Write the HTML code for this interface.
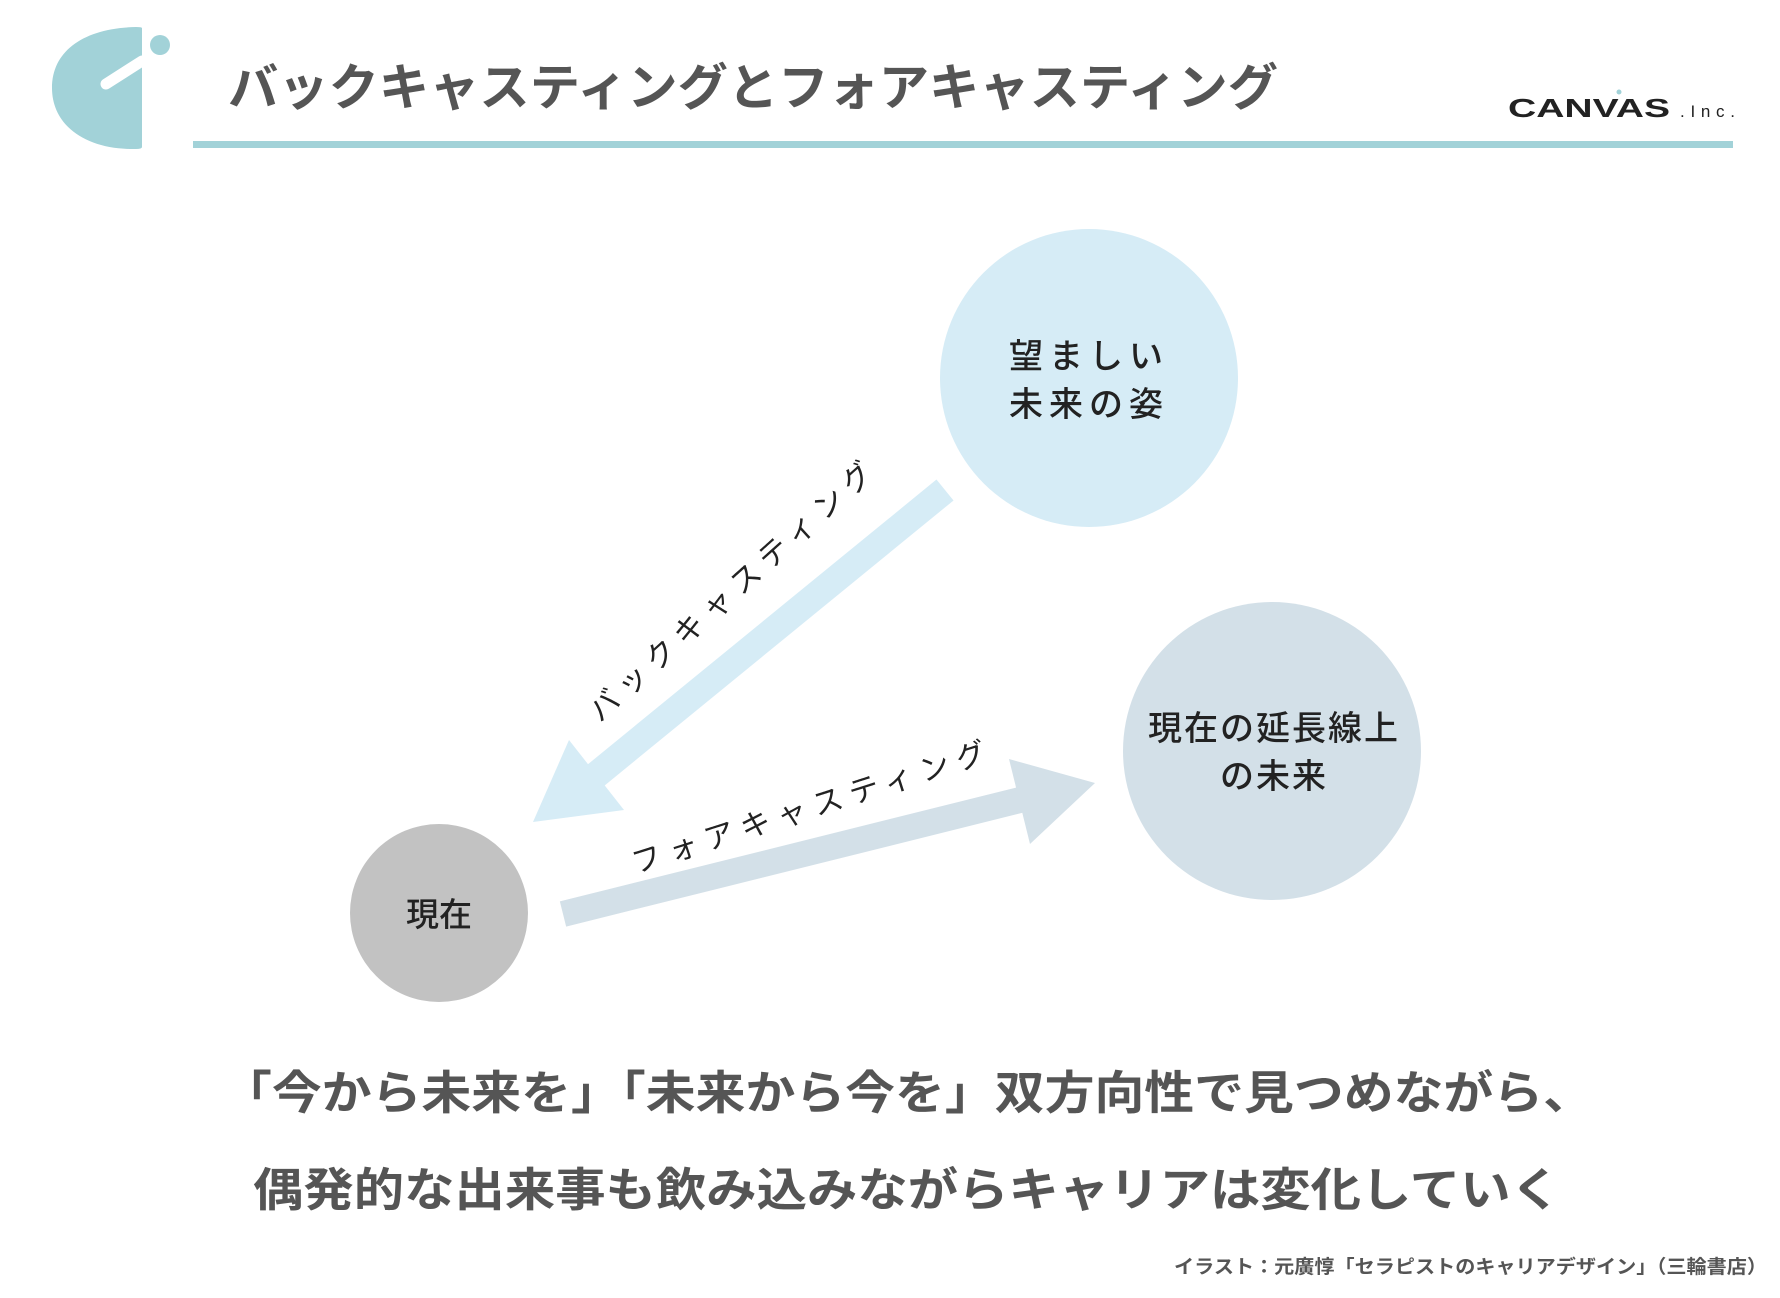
<!DOCTYPE html>
<html><head><meta charset="utf-8"><style>
html,body{margin:0;padding:0;background:#fff;}
svg{display:block;}
text{font-family:"Liberation Sans","Noto Sans CJK JP",sans-serif;}
</style></head><body>
<svg width="1780" height="1298" viewBox="0 0 1780 1298" xmlns="http://www.w3.org/2000/svg">
<rect width="1780" height="1298" fill="#fff"/>
<!-- logo -->
<path d="M142 28 L142 147 Q142 149 136 149 C85 150 52 125 52 88 C52 50 85 28 136 27 Q142 27 142 28 Z" fill="#a2d2d8"/>
<line x1="106" y1="84" x2="142" y2="61" stroke="#fff" stroke-width="11" stroke-linecap="round"/>
<circle cx="160" cy="45" r="10" fill="#a2d2d8"/>
<!-- title -->
<text x="228" y="105" font-size="50" font-weight="bold" fill="#555" textLength="1050" lengthAdjust="spacingAndGlyphs">バックキャスティングとフォアキャスティング</text>
<rect x="193" y="141" width="1540" height="7" fill="#a2d2d8"/>
<text x="1508" y="117" font-size="26" font-weight="bold" fill="#222" textLength="162" lengthAdjust="spacingAndGlyphs">CANVAS</text>
<circle cx="1619" cy="92" r="2.5" fill="#a2d2d8"/>
<text x="1680" y="117" font-size="17" fill="#222" textLength="55" lengthAdjust="spacing">.Inc.</text>
<!-- circles -->
<circle cx="1089" cy="378" r="149" fill="#d6ecf6"/>
<circle cx="1272" cy="751" r="149" fill="#d3e0e8"/>
<circle cx="439" cy="913" r="89" fill="#c2c2c2"/>
<!-- back arrow -->
<line x1="945" y1="490" x2="590" y2="780" stroke="#d6ecf6" stroke-width="27"/>
<polygon points="533,822 569,740 624,810" fill="#d6ecf6"/>
<!-- forward arrow -->
<line x1="563" y1="914" x2="1040" y2="795" stroke="#d3e0e8" stroke-width="26"/>
<polygon points="1095,783 1009,759 1030,844" fill="#d3e0e8"/>
<!-- arrow labels -->
<text transform="translate(731,592) rotate(-42)" text-anchor="middle" y="10" font-size="30" fill="#222" textLength="370" lengthAdjust="spacing">バックキャスティング</text>
<text transform="translate(809,808) rotate(-17.7)" text-anchor="middle" y="10" font-size="30" fill="#222" textLength="370" lengthAdjust="spacing">フォアキャスティング</text>
<!-- circle labels -->
<g font-size="34" fill="#222" text-anchor="middle" font-weight="500">
<text x="1089" y="368" letter-spacing="6">望ましい</text>
<text x="1089" y="416" letter-spacing="6">未来の姿</text>
<text x="1274" y="740" letter-spacing="2">現在の延長線上</text>
<text x="1274" y="788" letter-spacing="2">の未来</text>
<text x="439" y="926" font-size="33">現在</text>
</g>
<!-- bottom text -->
<text x="222" y="1109" font-size="46" font-weight="bold" fill="#555" textLength="1371" lengthAdjust="spacingAndGlyphs">「今から未来を」「未来から今を」双方向性で見つめながら、</text>
<text x="253" y="1206" font-size="46" font-weight="bold" fill="#555" textLength="1308" lengthAdjust="spacingAndGlyphs">偶発的な出来事も飲み込みながらキャリアは変化していく</text>
<text x="1174" y="1273" font-size="19" font-weight="bold" fill="#555" textLength="593" lengthAdjust="spacingAndGlyphs">イラスト：元廣惇「セラピストのキャリアデザイン」（三輪書店）</text>
</svg>
</body></html>
